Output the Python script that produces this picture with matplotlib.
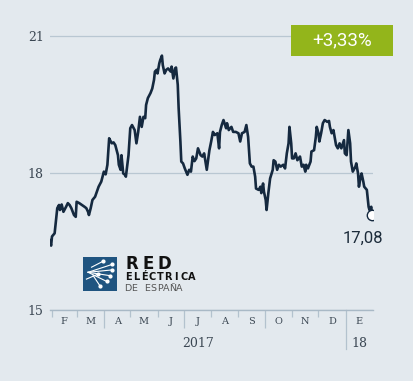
import matplotlib
matplotlib.use("Agg")
import matplotlib.pyplot as plt
from matplotlib.patches import Rectangle
import pandas as pd

# --------------------- Datos --------------------- #
# dias desde el 1 de enero de 2017, cierre de Red Eléctrica (euros)
dias = [28, 30, 31, 34, 37, 39, 40, 42, 44, 47,
        49, 51, 53, 56, 58, 59, 62, 65, 68, 70,
        72, 73, 75, 77, 80, 82, 84, 87, 89, 90,
        92, 94, 96, 97, 99, 101, 103, 106, 107, 109,
        110, 112, 114, 115, 118, 120, 122, 125, 127, 129,
        131, 133, 135, 137, 138, 140, 143, 145, 147, 148,
        150, 151, 153, 154, 156, 157, 159, 161, 163, 166,
        167, 169, 171, 172, 174, 175, 177, 178, 180, 182,
        185, 187, 189, 191, 193, 195, 197, 200, 202, 204,
        207, 210, 212, 214, 216, 219, 221, 222, 224, 226,
        229, 230, 232, 235, 237, 240, 243, 245, 247, 250,
        252, 254, 256, 258, 260, 262, 263, 266, 268, 269,
        271, 272, 274, 275, 277, 279, 282, 283, 285, 287,
        289, 291, 294, 296, 298, 300, 301, 303, 304, 306,
        308, 310, 313, 315, 317, 319, 320, 322, 325, 326,
        329, 331, 332, 334, 335, 337, 339, 341, 344, 346,
        347, 349, 351, 354, 356, 358, 360, 363, 364, 366,
        368, 370, 371, 373, 376, 377, 379, 380, 382, 383,
        385, 386, 389, 391, 392, 394, 395]
cierre = [16.53, 16.41, 16.61, 16.68, 17.23, 17.30, 17.19, 17.31, 17.15, 17.26,
          17.34, 17.30, 17.23, 17.08, 17.04, 17.37, 17.34, 17.30, 17.26, 17.23,
          17.15, 17.08, 17.23, 17.41, 17.48, 17.59, 17.70, 17.81, 17.96, 18.03,
          17.97, 18.18, 18.76, 18.72, 18.65, 18.67, 18.61, 18.39, 18.18, 18.07,
          18.39, 17.99, 17.96, 17.92, 18.39, 18.98, 19.05, 18.94, 18.65, 18.90,
          19.23, 19.01, 19.23, 19.20, 19.49, 19.64, 19.75, 19.85, 20.04, 20.22,
          20.26, 20.18, 20.40, 20.47, 20.57, 20.36, 20.18, 20.26, 20.29, 20.22,
          20.33, 20.07, 20.29, 20.31, 19.93, 19.42, 18.69, 18.25, 18.21, 18.10,
          17.96, 18.07, 18.03, 18.36, 18.26, 18.32, 18.54, 18.39, 18.36, 18.43,
          18.07, 18.50, 18.69, 18.90, 18.83, 18.87, 18.54, 18.90, 19.05, 19.16,
          18.98, 19.09, 18.94, 19.01, 18.90, 18.90, 18.87, 18.69, 18.87, 18.90,
          19.05, 18.79, 18.21, 18.14, 18.14, 17.92, 17.66, 17.63, 17.70, 17.56,
          17.77, 17.59, 17.41, 17.19, 17.56, 17.88, 18.07, 18.28, 18.25, 18.07,
          18.18, 18.14, 18.18, 18.10, 18.43, 18.65, 19.01, 18.65, 18.32, 18.32,
          18.43, 18.28, 18.36, 18.14, 18.18, 18.03, 18.18, 18.10, 18.25, 18.47,
          18.50, 18.79, 19.01, 18.87, 18.69, 18.87, 19.09, 19.16, 19.12, 19.14,
          19.01, 18.87, 18.94, 18.61, 18.54, 18.65, 18.54, 18.72, 18.43, 18.39,
          18.94, 18.65, 18.25, 18.03, 18.14, 18.21, 17.99, 17.70, 17.92, 17.99,
          17.81, 17.70, 17.63, 17.26, 17.19, 17.26, 17.08]

meses = ["F", "M", "A", "M", "J", "J", "A", "S", "O", "N", "D", "E"]
yticks = [15, 18, 21]

BG = "#e3e9ee"
NAVY = "#15293f"
GRID = "#b9c7d2"
W, H = 414, 381

# inicio de cada mes (dias desde 1-ene-2017)
origen = pd.Timestamp("2017-01-01")
inicios = [(d - origen).days for d in pd.date_range("2017-02-01", "2018-02-01", freq="MS")]
anyo_nuevo = (pd.Timestamp("2018-01-01") - origen).days

fig = plt.figure(figsize=(W / 100, H / 100), dpi=100, facecolor=BG)
ax = fig.add_axes([50 / W, 1 - 310 / H, 323 / W, (310 - 8.6) / H])
ax.set_facecolor(BG)
ax.set_xlim(28.73, inicios[-1])
ax.set_ylim(15, 21.6)

# --------------------- Ejes --------------------- #
for s in ["top", "right", "left"]:
    ax.spines[s].set_visible(False)
ax.spines["bottom"].set_color("#a9b9c6")
ax.spines["bottom"].set_linewidth(1.0)
ax.set_yticks(yticks)
ax.set_yticklabels([str(v) for v in yticks], family="DejaVu Serif", fontsize=9, color="#3a4652")
ax.tick_params(axis="y", length=0, pad=4.5)
ax.grid(axis="y", color=GRID, linewidth=0.9)
ax.set_axisbelow(True)

trimestres = [d for i, d in enumerate(inicios[:-1]) if i % 3 == 2 and d != anyo_nuevo]
otros = [d for i, d in enumerate(inicios[:-1]) if i % 3 != 2]
ax.set_xticks(trimestres)
ax.set_xticks(otros, minor=True)
ax.set_xticklabels([])
ax.tick_params(axis="x", which="major", length=13, color="#b3c2ce", width=0.9)
ax.tick_params(axis="x", which="minor", length=5, color="#b3c2ce", width=0.9)
# separador de año
ax.plot([anyo_nuevo, anyo_nuevo], [15, 15 - 39 / 45.667], color="#b3c2ce",
        lw=0.9, clip_on=False)

ypx = lambda px: 15 - (px - 310) / 45.667
for i, m in enumerate(meses):
    ax.text((inicios[i] + inicios[i + 1]) / 2, ypx(321.5), m, ha="center", va="center",
            family="DejaVu Serif", fontsize=7, color="#3a4652")
ax.text((28.73 + anyo_nuevo) / 2, ypx(344), "2017", ha="center", va="center",
        family="DejaVu Serif", fontsize=9, color="#3a4652")
ax.text((anyo_nuevo + inicios[-1]) / 2, ypx(344), "18", ha="center", va="center",
        family="DejaVu Serif", fontsize=9, color="#3a4652")

# --------------------- Línea --------------------- #
ax.plot(dias, cierre, color=NAVY, lw=1.9, solid_joinstyle="round", zorder=3)
ax.plot(dias[-1], cierre[-1], "o", ms=7.5, mfc="white", mec=NAVY, mew=1.0, zorder=4)
ax.annotate(f"{cierre[-1]:.2f}".replace(".", ","), xy=(dias[-1], cierre[-1]),
            xytext=(-9, -23), textcoords="offset pixels", ha="center", va="center",
            family="Roboto", fontsize=12, color="#1c2b3a")

# --------------------- Variación --------------------- #
var = (cierre[-1] / cierre[0] - 1) * 100
fig.patches.append(Rectangle((291 / W, 1 - 56 / H), 102 / W, 31 / H,
                             transform=fig.transFigure, facecolor="#93b51b", edgecolor="none"))
fig.text(342 / W, 1 - 40.5 / H, f"{var:+.2f}%".replace(".", ","), ha="center", va="center",
         family="Roboto", fontsize=13.5, color="white")

# --------------------- Logo --------------------- #
lg = fig.add_axes([83 / W, 1 - 291 / H, 34 / W, 34 / H])
lg.set_xlim(0, 1)
lg.set_ylim(0, 1)
lg.set_facecolor("#1f5480")
lg.set_xticks([])
lg.set_yticks([])
for s in lg.spines.values():
    s.set_visible(False)
for (x0, y0), (x1, y1) in [((0.15, 0.55), (0.85, 0.78)), ((0.15, 0.55), (0.85, 0.62)),
                           ((0.15, 0.55), (0.8, 0.45)), ((0.15, 0.55), (0.7, 0.28)),
                           ((0.25, 0.7), (0.6, 0.88)), ((0.3, 0.45), (0.5, 0.15)),
                           ((0.1, 0.35), (0.45, 0.5))]:
    lg.plot([x0, x1], [y0, y1], color="white", lw=0.8)
    lg.plot([x1], [y1], "o", color="white", ms=2)


def espaciado(texto, x0, paso, y, **kw):
    for i, c in enumerate(texto):
        fig.text((x0 + paso * (i + 0.5)) / W, 1 - y / H, c, ha="center", va="baseline", **kw)


espaciado("RED", 124, 16, 269, fontsize=12, fontweight="bold", color="#111111")
espaciado("ELÉCTRICA", 124.5, 7.9, 280.5, fontsize=7, fontweight="bold", color="#111111")
espaciado("DE ESPAÑA", 124.5, 6.4, 291, fontsize=6.8, color="#555555")

fig.savefig("out.png", dpi=100, facecolor=BG)
